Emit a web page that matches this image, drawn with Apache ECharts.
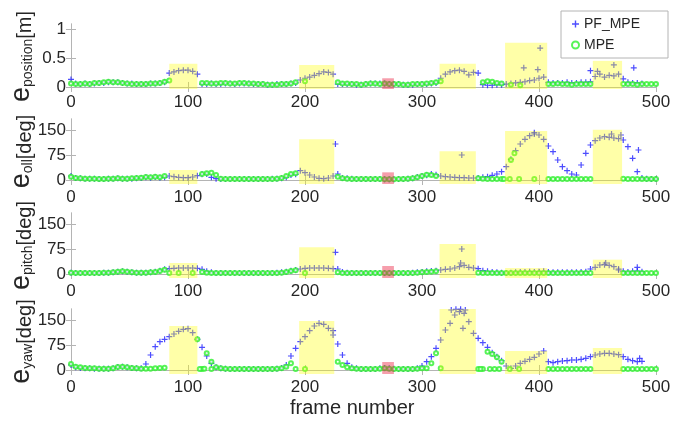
<!DOCTYPE html>
<html>
<head>
<meta charset="utf-8">
<script src="https://cdn.jsdelivr.net/npm/echarts@6/dist/echarts.min.js"></script>
<style>
  html, body { margin: 0; padding: 0; background: #fff; }
  #main { width: 683px; height: 423px; }
</style>
</head>
<body>
<div id="main"></div>
<script>
// frame numbers sampled every 4 frames (0..500)
var frames = [];
for (var f = 0; f <= 500; f += 4) frames.push(f);

// e_position [m]
var pfPos = [
  0.13,0.06,0.05,0.06,0.05,0.06,0.07,0.07,0.08,0.08,
  0.08,0.07,0.06,0.06,0.05,0.05,0.05,0.06,0.06,0.07,
  0.08,0.24,0.26,0.28,0.29,0.29,0.27,0.22,0.05,0.05,
  0.06,0.05,0.05,0.06,0.06,0.05,0.06,0.06,0.06,0.05,
  0.05,0.05,0.04,0.04,0.05,0.05,0.05,0.06,0.07,0.12,
  0.15,0.17,0.20,0.23,0.26,0.25,0.22,0.05,0.05,0.05,
  0.05,0.04,0.04,0.05,0.06,0.06,0.06,0.06,0.05,0.05,
  0.05,0.04,0.04,0.04,0.05,0.05,0.05,0.06,0.07,0.15,
  0.22,0.26,0.28,0.29,0.27,0.21,0.25,0.24,0.04,0.03,
  0.03,0.04,0.04,0.05,0.06,0.07,0.08,0.09,0.11,0.12,
  0.15,0.17,0.08,0.07,0.07,0.07,0.08,0.07,0.07,0.08,
  0.08,0.09,0.18,0.22,0.17,0.20,0.19,0.22,0.14,0.08,
  0.07,0.07,0.06,null,null,null
];
var mpePos = [
  0.06,0.05,0.05,0.06,0.05,0.07,0.07,0.08,0.09,0.08,
  0.08,0.07,0.06,0.05,0.05,0.05,0.05,0.06,0.06,0.07,
  0.09,0.11,null,null,null,null,null,null,0.07,0.07,
  0.06,0.06,0.07,0.07,0.06,0.06,0.07,0.07,0.06,0.06,
  0.05,0.05,0.04,0.04,0.04,0.05,0.05,0.06,0.08,null,
  0.10,null,null,null,null,null,null,0.08,0.06,0.06,
  0.05,0.05,0.04,0.05,0.06,0.06,0.05,0.06,0.05,0.05,
  0.05,0.04,0.04,0.05,0.05,0.05,0.06,0.07,0.08,0.10,
  null,null,null,null,null,null,null,null,0.08,0.10,
  0.09,0.07,0.06,null,0.04,null,0.03,null,null,null,
  null,null,0.05,0.05,0.06,0.05,0.05,0.04,0.05,0.05,
  0.05,0.05,null,null,null,null,null,null,0.05,0.05,
  0.05,0.04,0.05,0.05,0.05,0.05
];
var pfPosExtra = [[387,0.33],[399,0.30],[401,0.67],[444,0.28],[450,0.27],[464,0.38],[481,0.33]];
var mpePosExtra = [];

// e_roll [deg]
var pfRoll = [
  12,6,5,4,4,4,3,3,4,4,
  5,4,4,4,5,6,8,7,9,7,
  8,12,10,8,7,7,9,13,17,18,
  8,4,3,3,3,3,3,3,3,3,
  3,3,3,4,4,5,8,15,17,28,
  22,15,9,5,4,6,12,18,6,5,
  4,3,3,3,3,3,3,2,2,2,
  3,3,4,5,9,12,14,18,16,12,
  10,9,8,7,7,6,6,6,8,10,
  14,18,25,40,62,88,108,122,133,138,
  135,122,102,85,60,40,28,18,15,45,
  80,105,118,126,130,128,126,124,120,100,
  65,25,6,4,3,3
];
var mpeRoll = [
  10,6,5,4,4,4,3,3,4,4,
  5,4,4,5,6,7,9,8,10,8,
  12,null,null,null,null,null,null,null,18,20,
  22,15,4,3,3,3,3,3,3,3,
  3,3,3,3,4,6,12,18,20,null,
  null,null,null,null,null,null,null,10,5,4,
  3,3,3,3,3,3,3,2,2,2,
  3,3,4,5,8,12,16,15,12,null,
  null,null,null,null,null,null,null,5,4,3,
  3,3,3,null,null,null,null,null,null,null,
  null,null,3,3,3,3,3,3,3,3,
  3,3,null,null,null,null,null,null,4,3,
  3,3,3,3,3,3
];
var pfRollExtra = [[226,108],[334,75],[485,90],[462,138],[470,135],[396,142]];
var mpeRollExtra = [[376,60],[379,80],[375,3],[383,3],[396,3],[370,3]];

// e_pitch [deg]
var pfPitch = [
  4,3,3,3,3,3,3,4,4,5,
  7,8,7,5,4,4,4,5,7,10,
  14,16,17,18,18,18,18,17,14,8,
  5,3,3,3,3,3,3,3,3,3,
  3,3,3,3,4,5,7,10,12,15,
  17,18,18,18,18,17,16,15,6,4,
  3,3,3,3,3,3,3,3,3,3,
  3,3,3,4,5,6,8,9,10,12,
  14,15,18,22,26,20,18,16,10,8,
  6,5,4,3,4,5,6,6,7,6,
  7,8,6,5,5,5,5,5,5,6,
  7,15,20,27,28,26,22,15,8,6,
  8,9,7,null,null,null
];
var mpePitch = [
  4,3,3,3,3,3,3,4,4,5,
  7,8,7,5,4,4,4,5,6,9,
  13,3,null,3,null,null,3,null,6,4,
  3,3,3,3,3,3,3,3,3,3,
  3,3,3,3,3,4,6,9,11,null,
  3,null,null,null,null,null,null,5,3,3,
  3,3,3,3,3,3,3,3,3,3,
  3,3,3,3,4,5,6,7,8,null,
  null,null,null,null,null,null,null,4,3,3,
  3,3,3,3,3,3,3,3,3,3,
  3,3,3,3,3,3,3,3,3,3,
  3,3,null,null,null,null,null,null,3,3,
  3,3,3,3,3,3
];
var pfPitchExtra = [[226,65],[334,75],[333,33],[457,33],[468,12],[484,20]];
var mpePitchExtra = [];

// e_yaw [deg]
var pfYaw = [
  15,8,6,5,5,4,4,4,4,5,
  9,10,8,6,5,5,18,45,70,85,
  92,100,108,116,122,124,112,92,68,42,
  20,8,5,4,3,3,3,3,3,3,
  3,3,3,3,4,6,15,42,65,85,
  100,118,132,140,137,125,105,78,45,20,
  8,5,3,3,3,3,5,6,5,4,
  3,3,3,3,5,12,25,40,65,90,
  120,140,165,175,170,145,110,95,82,68,
  52,40,28,12,5,12,20,26,32,38,
  48,57,25,22,25,27,28,30,30,32,
  35,40,45,48,50,50,48,46,40,32,
  28,25,26,null,null,null
];
var mpeYaw = [
  18,10,8,6,5,5,4,4,4,5,
  9,10,8,6,5,4,4,4,5,6,
  7,null,null,null,null,null,null,92,3,50,
  25,8,5,4,3,3,3,3,3,3,
  3,3,3,3,4,5,10,20,3,null,
  3,null,null,null,null,null,null,25,15,8,
  5,4,3,3,3,3,4,5,4,3,
  3,3,3,3,4,5,5,20,50,5,
  null,null,null,null,null,null,null,3,3,55,
  48,38,25,null,null,null,null,null,null,null,
  null,null,3,3,3,3,3,3,3,3,
  3,3,null,null,null,null,null,null,3,3,
  3,3,3,3,3,3
];
var pfYawExtra = [[224,118],[325,180],[329,182],[333,182],[337,180],[335,125],[486,35]];
var mpeYawExtra = [[110,3],[114,4],[120,3],[350,3],[358,3],[362,3],[366,3],[375,3],[383,3]];

// highlighted frame ranges and the box heights in each panel
var ranges = [[84,108],[195,225],[266,276],[315,346],[371,407],[446,471]];
var boxTop = [
  [0.40,0.38,0.15,0.40,0.76,0.45],
  [30,122,23,86,147,151],
  [33,80,24,90,18,43],
  [132,147,24,183,57,66]
];

var yNames = ['position', 'oll', 'pitch', 'yaw'];
var yUnits = ['[m]', '[deg]', '[deg]', '[deg]'];
var yMin = [-0.035, -12, -12, -12];
var yMax = [1.085, 183, 183, 183];
var yTicks = [[0, 0.5, 1], [0, 75, 150], [0, 75, 150], [0, 75, 150]];

var pf = [pfPos, pfRoll, pfPitch, pfYaw];
var mpe = [mpePos, mpeRoll, mpePitch, mpeYaw];
var pfExtra = [pfPosExtra, pfRollExtra, pfPitchExtra, pfYawExtra];
var mpeExtra = [mpePosExtra, mpeRollExtra, mpePitchExtra, mpeYawExtra];

var panelTop = [24, 119, 213, 309];
var FONT = 'Liberation Sans';
var TXT = '#262626';
var BOX = '#b4b4b4';
var PLUS = 'path://M4,0H6V4H10V6H6V10H4V6H0V4H4Z';

function toPoints(vals, extra) {
  var out = [];
  vals.forEach(function (v, i) { if (v !== null) out.push([frames[i], v]); });
  return out.concat(extra);
}

var grid = [], xAxis = [], yAxis = [], series = [];
for (var p = 0; p < 4; p++) {
  grid.push({
    left: 71, width: 585, top: panelTop[p], height: 65, show: false,
    containLabel: false, outerBoundsMode: 'none'
  });
  // bottom x axis with labels
  xAxis.push({
    gridIndex: p, type: 'value', min: 0, max: 500, interval: 100, position: 'bottom',
    axisLine: { show: true, lineStyle: { color: BOX } },
    axisTick: { inside: true, length: 5, lineStyle: { color: BOX } },
    axisLabel: { color: TXT, fontSize: 17, fontFamily: FONT, margin: 5 },
    splitLine: { show: false }
  });
  // top x axis (ticks only)
  xAxis.push({
    gridIndex: p, type: 'value', min: 0, max: 500, interval: 100, position: 'top',
    axisLine: { show: true, lineStyle: { color: BOX } },
    axisTick: { inside: true, length: 5, lineStyle: { color: BOX } },
    axisLabel: { show: false }, splitLine: { show: false }
  });
  yAxis.push({
    gridIndex: p, type: 'value', min: yMin[p], max: yMax[p], position: 'left',
    name: '{e|e}{s|' + yNames[p] + '}{u|' + yUnits[p] + '}',
    nameLocation: 'middle', nameRotate: 90, nameGap: 36, nameMoveOverlap: false,
    nameTextStyle: {
      rich: {
        e: { fontSize: 27, fontFamily: FONT, color: TXT, verticalAlign: 'bottom', lineHeight: 27 },
        s: { fontSize: 14, fontFamily: FONT, color: TXT, verticalAlign: 'bottom', lineHeight: 27 },
        u: { fontSize: 20, fontFamily: FONT, color: TXT, verticalAlign: 'bottom', lineHeight: 27 }
      }
    },
    axisLine: { show: true, lineStyle: { color: BOX } },
    axisTick: { inside: true, length: 5, customValues: yTicks[p], lineStyle: { color: BOX } },
    axisLabel: { color: TXT, fontSize: 17, fontFamily: FONT, margin: 5, customValues: yTicks[p] },
    splitLine: { show: false }
  });
  yAxis.push({
    gridIndex: p, type: 'value', min: yMin[p], max: yMax[p], position: 'right',
    axisLine: { show: true, lineStyle: { color: BOX } },
    axisTick: { inside: true, length: 5, customValues: yTicks[p], lineStyle: { color: BOX } },
    axisLabel: { show: false }, splitLine: { show: false }
  });

  series.push({
    name: 'PF_MPE', type: 'scatter', xAxisIndex: 2 * p, yAxisIndex: 2 * p, z: 2,
    symbol: PLUS, symbolSize: 6, itemStyle: { color: '#2020ff' },
    data: toPoints(pf[p], pfExtra[p]), silent: true
  });
  series.push({
    name: 'MPE', type: 'scatter', xAxisIndex: 2 * p, yAxisIndex: 2 * p, z: 3,
    symbol: 'emptyCircle', symbolSize: 4,
    itemStyle: { color: '#2ef02e', borderColor: '#2ef02e', borderWidth: 0.8 },
    data: toPoints(mpe[p], mpeExtra[p]), silent: true
  });

  var areas = ranges.map(function (r, k) {
    return [
      { xAxis: r[0], yAxis: yMin[p], itemStyle: { color: k === 2 ? 'rgba(235,40,70,0.45)' : 'rgba(255,255,0,0.34)' } },
      { xAxis: r[1], yAxis: boxTop[p][k] }
    ];
  });
  series.push({
    type: 'scatter', xAxisIndex: 2 * p, yAxisIndex: 2 * p, z: 10, data: [],
    markArea: { silent: true, z: 10, data: areas }
  });
}

var myChart = echarts.init(document.getElementById('main'));
myChart.setOption({
  animation: false,
  grid: grid,
  xAxis: xAxis,
  yAxis: yAxis,
  legend: {
    orient: 'vertical', left: 561, top: 11,
    padding: [6, 28, 6, 10], itemGap: 7, itemWidth: 7, itemHeight: 7,
    backgroundColor: '#fff', borderColor: BOX, borderWidth: 1,
    textStyle: { fontSize: 14, fontFamily: FONT, color: TXT },
    data: [
      { name: 'PF_MPE', icon: PLUS },
      { name: 'MPE', icon: 'emptyCircle' }
    ]
  },
  graphic: [{
    type: 'text', left: 290, top: 398,
    style: { text: 'frame number', fontSize: 20, fontFamily: FONT, fill: TXT }
  }],
  series: series
});
</script>
</body>
</html>
